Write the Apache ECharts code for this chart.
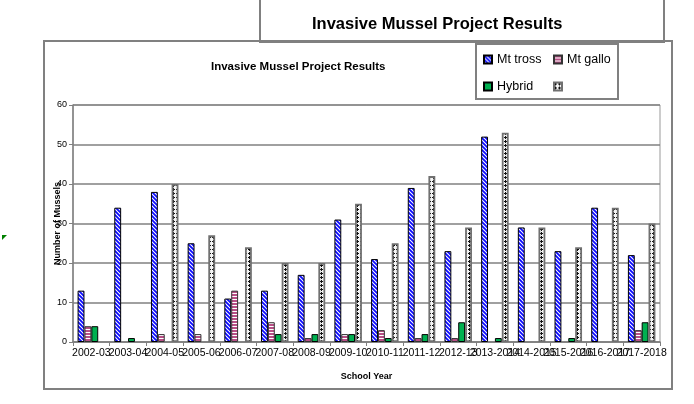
<!DOCTYPE html>
<html><head><meta charset="utf-8">
<script src="https://cdn.jsdelivr.net/npm/echarts@6/dist/echarts.min.js"></script>
<style>html,body{margin:0;padding:0;background:#fff;}#c{width:694px;height:404px;}</style>
</head><body><div id="c"></div>
<script>
const categories = ['2002-03','2003-04','2004-05','2005-06','2006-07','2007-08','2008-09','2009-10','2010-11','2011-12','2012-13','2013-2014','2014-2015','2015-2016','2016-2017','2017-2018'];
const mtTross = [13,34,38,25,11,13,17,31,21,39,23,52,29,23,34,22];
const mtGallo = [4,0,2,2,13,5,1,2,3,1,1,0,0,0,0,3];
const hybrid  = [4,1,0,0,0,2,2,2,1,2,5,1,0,1,0,5];
const fourth  = [0,0,40,27,24,20,20,35,25,42,29,53,29,24,34,30];
const yTicks = {min:0, max:60, interval:10};
const titleText = 'Invasive Mussel Project Results';

function mk(w,h,draw){const c=document.createElement('canvas');c.width=w;c.height=h;const x=c.getContext('2d');draw(x);return c;}
const pTross = mk(4,4,x=>{x.fillStyle='#fff';x.fillRect(0,0,4,4);x.strokeStyle='#0a0aff';x.lineWidth=1.8;
  x.beginPath();x.moveTo(-1,-1);x.lineTo(5,5);x.moveTo(-1,3);x.lineTo(1,5);x.moveTo(3,-1);x.lineTo(5,1);x.stroke();});
const pGallo = mk(3,3,x=>{x.fillStyle='#fff';x.fillRect(0,0,3,3);x.fillStyle='#b84f86';x.fillRect(0,0,3,2);});
const pFourth = mk(4,4,x=>{x.fillStyle='#f4f4f4';x.fillRect(0,0,4,4);x.fillStyle='#111';x.fillRect(1,0,1,3);x.fillRect(0,1,3,1);});

const nz = a => a.map(v => v === 0 ? null : v);
const font = 'Liberation Sans, Arial, sans-serif';
const chart = echarts.init(document.getElementById('c'));
function bar(name, data, color, border, bw){
  return {type:'bar', name, data:nz(data), barGap:'0%', barCategoryGap:'25%',
    itemStyle:{color, borderColor:border, borderWidth:bw}, emphasis:{disabled:true}};
}
chart.setOption({
  animation:false,
  textStyle:{fontFamily:font},
  title:[{text:titleText, left:206, top:56,
          textStyle:{fontSize:11.5, fontWeight:'bold', color:'#000', fontFamily:font}},
         {text:titleText, left:307, top:11,
          textStyle:{fontSize:16.5, fontWeight:'bold', color:'#000', fontFamily:font}}],
  legend:[{data:['Mt tross','Hybrid'], orient:'vertical', left:478, top:48, itemWidth:8, itemHeight:8, itemGap:14,
           textStyle:{fontSize:12.5, color:'#000', fontFamily:font}, icon:'rect', selectedMode:false},
          {data:['Mt gallo',' '], orient:'vertical', left:548, top:48, itemWidth:8, itemHeight:8, itemGap:14,
           textStyle:{fontSize:12.5, color:'#000', fontFamily:font}, icon:'rect', selectedMode:false}],
  grid:{left:73, right:34, top:105, bottom:62, show:true, borderColor:'#999', borderWidth:1},
  xAxis:{type:'category', data:categories, name:'School Year', nameLocation:'middle', nameGap:30,
    nameTextStyle:{fontSize:9, fontWeight:'bold', color:'#000', fontFamily:font},
    axisLine:{lineStyle:{color:'#808080', width:1.5}},
    axisTick:{show:true, alignWithLabel:false, length:4, lineStyle:{color:'#808080'}},
    axisLabel:{interval:0, fontSize:10.5, color:'#000', margin:6, fontFamily:font}},
  yAxis:{type:'value', min:yTicks.min, max:yTicks.max, interval:yTicks.interval,
    name:'Number of Mussels', nameLocation:'middle', nameGap:11, nameRotate:90, nameMoveOverlap:false,
    nameTextStyle:{fontSize:9, fontWeight:'bold', color:'#000', fontFamily:font},
    axisLine:{show:true, lineStyle:{color:'#808080', width:1.5}},
    axisTick:{show:true, length:4, lineStyle:{color:'#808080'}},
    axisLabel:{fontSize:9, color:'#000', margin:6, fontFamily:font},
    splitLine:{lineStyle:{color:'#808080', width:1.5}}},
  series:[bar('Mt tross', mtTross, {image:pTross, repeat:'repeat'}, '#000', 1),
          bar('Mt gallo', mtGallo, {image:pGallo, repeat:'repeat'}, '#333', 1),
          bar('Hybrid', hybrid, '#00b050', '#000', 1),
          bar(' ', fourth, {image:pFourth, repeat:'repeat'}, '#707070', 1.8)],
  graphic:[
    {type:'rect', shape:{x:260, y:-2, width:404, height:44}, style:{fill:'none', stroke:'#808080', lineWidth:2}, silent:true},
    {type:'rect', shape:{x:44, y:41, width:628, height:348}, style:{fill:'none', stroke:'#808080', lineWidth:2}, silent:true},
    {type:'rect', shape:{x:476, y:44, width:142, height:55}, style:{fill:'none', stroke:'#808080', lineWidth:2}, silent:true},
    {type:'polygon', shape:{points:[[2,235],[7,235],[2,240]]}, style:{fill:'#008000'}, silent:true}
  ]
});
</script></body></html>
